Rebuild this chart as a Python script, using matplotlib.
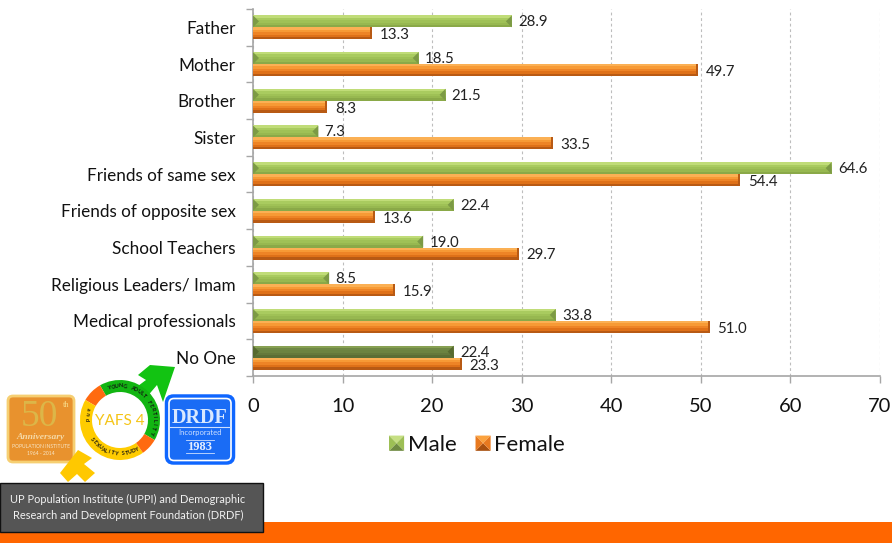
import numpy as np
import matplotlib
matplotlib.use("Agg")
import matplotlib.pyplot as plt
from matplotlib.patches import Rectangle, FancyBboxPatch, Wedge, Polygon, Circle
from matplotlib.legend_handler import HandlerBase

categories = ["Father", "Mother", "Brother", "Sister", "Friends of same sex",
              "Friends of opposite sex", "School Teachers", "Religious Leaders/ Imam",
              "Medical professionals", "No One"]
male = [28.9, 18.5, 21.5, 7.3, 64.6, 22.4, 19.0, 8.5, 33.8, 22.4]
female = [13.3, 49.7, 8.3, 33.5, 54.4, 13.6, 29.7, 15.9, 51.0, 23.3]
x_ticks = [0, 10, 20, 30, 40, 50, 60, 70]
series_names = ["Male", "Female"]
footer = "UP Population Institute (UPPI) and Demographic\nResearch and Development Foundation (DRDF)"

plt.rcParams["font.family"] = ["Lato", "DejaVu Sans"]
W, H = 892, 543
fig = plt.figure(figsize=(W / 100, H / 100), dpi=100)
ax = fig.add_axes([253 / W, 1 - 376 / H, (880 - 253) / W, (376 - 9) / H])
bh = 0.327
y = np.arange(len(categories))
px_x = 70 / (880 - 253)


def draw_bar(v, top, bands, bevel, edge):
    n = len(bands)
    for k, col in enumerate(bands):
        ax.barh(top + bh * (k + 0.5) / n, v, bh / n * 1.02, color=col, edgecolor="none", zorder=3)
    if bevel:
        w = 6 * px_x
        ax.fill([0, w, 0], [top, top + bh / 2, top + bh], color=edge, lw=0, zorder=5)
        ax.fill([v, v - w, v], [top, top + bh / 2, top + bh], color=edge, lw=0, zorder=5)
    else:
        w = 2 * px_x
        ax.barh(top + bh / 2, w, bh, left=v - w, color=edge, edgecolor="none", zorder=5)


green = ["#c0dc78", "#a9cb5f", "#9fc156", "#97b850", "#8aa948"]
dkgreen = ["#87a052", "#6f8845", "#6b8340", "#64793b", "#5a6e35"]
orange = ["#fbb054", "#f79a35", "#ee8426", "#df7118", "#b85a14"]
for i in y:
    draw_bar(male[i], i - bh, dkgreen if i == 9 else green, True, "#56692f" if i == 9 else "#7c9a45")
    draw_bar(female[i], i, orange, False, "#b85a14")
    ax.annotate(f"{male[i]:.1f}", (male[i], i - bh / 2), xytext=(4.5, -0.7), textcoords="offset points",
                va="center", ha="left", fontsize=10.8, color="#222222", zorder=6)
    ax.annotate(f"{female[i]:.1f}", (female[i], i + bh / 2), xytext=(5.5, -1.4), textcoords="offset points",
                va="center", ha="left", fontsize=10.8, color="#222222", zorder=6)

ax.set_xlim(0, 70)
ax.set_ylim(len(categories) - 0.5, -0.5)
ax.set_xticks(x_ticks)
ax.set_xticklabels(x_ticks, fontsize=14.5, color="#111111")
ax.set_yticks(y)
ax.set_yticklabels(categories, fontsize=12.3, color="#111111")
ax.tick_params(axis="y", length=0, pad=12.5)
ax.tick_params(axis="x", length=5, width=1, color="#a6a6a6", pad=11)
ax.set_yticks(np.arange(len(categories) + 1) - 0.5, minor=True)
ax.tick_params(axis="y", which="minor", length=5, width=1, color="#a6a6a6")
ax.grid(axis="x", linestyle=(0, (2.5, 2.5)), color="#bdbdbd", lw=0.8, zorder=0)
ax.set_axisbelow(True)
for s in ("top", "right"):
    ax.spines[s].set_visible(False)
for s in ("left", "bottom"):
    ax.spines[s].set_color("#a6a6a6")
    ax.spines[s].set_linewidth(1.2)
ax.patch.set_alpha(0)


class BevelHandler(HandlerBase):
    def __init__(self, light, mid, dark):
        super().__init__()
        self.c = (light, mid, dark)

    def create_artists(self, legend, orig, xd, yd, width, height, fontsize, trans):
        l, m, d = self.c
        x0, x1, y0, y1 = -xd, -xd + width, -yd, -yd + height
        cx, cy = (x0 + x1) / 2, (y0 + y1) / 2
        tri = [([(x0, y1), (x1, y1), (cx, cy)], l), ([(x0, y0), (x1, y0), (cx, cy)], d),
               ([(x0, y0), (x0, y1), (cx, cy)], m), ([(x1, y0), (x1, y1), (cx, cy)], m)]
        return [Polygon(p, closed=True, fc=c, ec="none", transform=trans) for p, c in tri]


hm = Rectangle((0, 0), 1, 1)
hf = Rectangle((0, 0), 1, 1)
leg = fig.legend([hm, hf], series_names, loc="center left",
                 bbox_to_anchor=(369 / W, 1 - 445 / H), ncol=2, frameon=False, fontsize=16,
                 handlelength=0.68, handleheight=0.68, handletextpad=0.17, columnspacing=0.85,
                 labelcolor="#111111",
                 handler_map={hm: BevelHandler("#c6df83", "#9dbf55", "#6f8a42"),
                              hf: BevelHandler("#fba23e", "#e8791f", "#a8500f")})

# page decoration drawn in pixel coordinates
ov = fig.add_axes([0, 0, 1, 1], zorder=5)
ov.set_xlim(0, W)
ov.set_ylim(H, 0)
ov.axis("off")
ov.patch.set_alpha(0)
ov.add_patch(Rectangle((0, 521.5), W, 22, fc="#ff6600", ec="none", zorder=1))

# 50th anniversary badge
ov.add_patch(FancyBboxPatch((8, 396), 66, 66, boxstyle="round,pad=0,rounding_size=5",
                            fc="#e8922e", ec="#f6cf72", lw=2, zorder=2))
ov.text(39, 417, "50", fontsize=27, family="Liberation Serif", color="#dcb648", ha="center", va="center", zorder=3)
ov.text(66, 405, "th", fontsize=6, family="Liberation Serif", color="#f8dc8a", ha="center", va="center", zorder=3)
ov.text(41, 437, "Anniversary", fontsize=6.8, family="Liberation Serif", style="italic", weight="bold",
        color="#f5d9a6", ha="center", va="center", zorder=3)
ov.text(41, 450, "POPULATION INSTITUTE\n1964 - 2014", fontsize=3.6, color="#f7e6c8", ha="center",
        va="center", linespacing=1.3, zorder=3)

# male arrow and female cross
ov.add_patch(Polygon([(138, 375), (150, 365), (175, 367), (163, 402), (157, 385), (140, 405), (130, 392),
                      (146, 380)], fc="#12c312", ec="none", zorder=2))
ov.add_patch(Polygon([(78, 450), (92, 458), (84, 464), (95, 473), (85, 482), (77, 474), (68, 482), (60, 473)],
                     fc="#ffc800", ec="none", zorder=2))

# ring: angles are given as seen on screen, the axis runs downward so they are negated
c = (120, 420)


def arc(a0, a1, col):
    ov.add_patch(Wedge(c, 40, -a1, -a0, width=12, fc=col, ec="none", zorder=3))


ov.add_patch(Circle(c, 29, fc="#ffffff", ec="none", zorder=2.5))
arc(-30, 120, "#12b512")
arc(120, 150, "#ff6a10")
arc(150, 305, "#ffcc00")
arc(305, 330, "#ff6a10")
ov.text(120, 421, "YAFS 4", fontsize=11, color="#f5c518", ha="center", va="center", zorder=4)


def ring_text(s, a0, a1, r, flip):
    for ch, a in zip(s, np.linspace(a0, a1, len(s))):
        t = np.radians(a)
        rot = (a + 90) if flip else (a - 90)
        ov.text(c[0] + r * np.cos(t), c[1] - r * np.sin(t), ch, fontsize=3.8, weight="bold", color="#111111",
                rotation=rot, rotation_mode="anchor", ha="center", va="center", zorder=4)


ring_text("YOUNG ADULT FERTILITY", 108, -20, 34, False)
ring_text("SEXUALITY STUDY", 215, 300, 34, True)
ring_text("and", 160, 180, 34, True)

# DRDF badge
ov.add_patch(FancyBboxPatch((166.5, 396), 67, 67, boxstyle="round,pad=0,rounding_size=7",
                            fc="#1a6cf5", ec="#0f66ff", lw=2.5, zorder=3))
ov.add_patch(FancyBboxPatch((169, 398.5), 62, 62, boxstyle="round,pad=0,rounding_size=5",
                            fc="#1a6cf5", ec="#ffffff", lw=1.2, zorder=3))
ov.text(200, 418, "DRDF", fontsize=14.5, family="Liberation Serif", weight="bold", color="#d8e8ff",
        ha="center", va="center", zorder=4)
ov.plot([170, 230], [427, 427], color="#cfe0ff", lw=0.8, zorder=4)
ov.text(200, 433, "Incorporated", fontsize=5.5, color="#cfe0ff", ha="center", va="center", zorder=4)
ov.text(200, 447, "1983", fontsize=9, family="Liberation Serif", weight="bold", color="#e4eeff",
        ha="center", va="center", zorder=4)
ov.plot([186, 214], [440, 440], color="#cfe0ff", lw=0.6, zorder=4)
ov.plot([186, 214], [453, 453], color="#cfe0ff", lw=0.6, zorder=4)

# footer box
ov.add_patch(Rectangle((0, 483), 263, 48.5, fc="#555555", ec="#111111", lw=1, zorder=5))
ov.text(128, 507.5, footer, fontsize=7.9, color="#f2f2f2", ha="center", va="center",
        linespacing=1.6, zorder=6)

fig.savefig("out.png", dpi=100)
